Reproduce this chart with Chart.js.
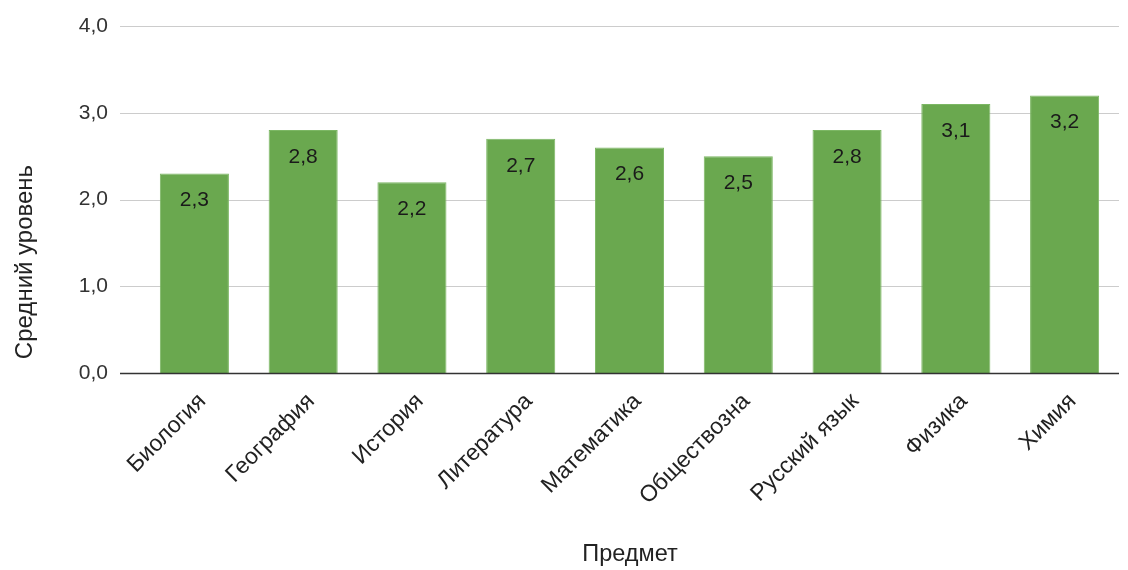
<!DOCTYPE html>
<html>
<head>
<meta charset="utf-8">
<script src="https://cdn.jsdelivr.net/npm/chart.js@4/dist/chart.umd.min.js"></script>
<style>
  html, body { margin: 0; padding: 0; background: #fff; }
  #wrap { width: 1128px; height: 570px; }
</style>
</head>
<body>
<div id="wrap"><canvas id="graficoNiveis"></canvas></div>
<script>
// dados
const predmety = ["Биология", "География", "История", "Литература", "Математика", "Обществозна", "Русский язык", "Физика", "Химия"]
const srednij = [2.3, 2.8, 2.2, 2.7, 2.6, 2.5, 2.8, 3.1, 3.2]
const yTicks = [0, 1, 2, 3, 4]

const fonte = "'Liberation Sans', Arial, sans-serif"

function formata(v) {
    return v.toFixed(1).replace(".", ",")
}

// linhas de grade desenhadas um pouco alem da area (como no original)
const gradePlugin = {
    id: "grade",
    beforeDatasetsDraw(chart) {
        const ctx = chart.ctx
        const y = chart.scales.y
        const area = chart.chartArea
        ctx.save()
        yTicks.forEach(t => {
            const py = Math.round(y.getPixelForValue(t)) + 0.5
            ctx.beginPath()
            ctx.moveTo(120, py)
            ctx.lineTo(area.right, py)
            ctx.strokeStyle = "#cccccc"
            ctx.lineWidth = 1.2
            ctx.stroke()
        })
        ctx.restore()
    }
}

// rotulos dentro das barras + titulos dos eixos
const rotulosPlugin = {
    id: "rotulos",
    afterDatasetsDraw(chart) {
        const ctx = chart.ctx
        const meta = chart.getDatasetMeta(0)
        ctx.save()
        ctx.fillStyle = "#1a1a1a"
        ctx.font = "21px " + fonte
        ctx.textAlign = "center"
        ctx.textBaseline = "middle"
        meta.data.forEach((bar, i) => {
            ctx.fillText(formata(srednij[i]), bar.x, bar.y + 27)
        })
        // linha do zero por cima
        const y0 = Math.round(chart.scales.y.getPixelForValue(0)) + 0.5
        ctx.beginPath()
        ctx.moveTo(120, y0)
        ctx.lineTo(chart.chartArea.right, y0)
        ctx.strokeStyle = "#333333"
        ctx.lineWidth = 1.5
        ctx.stroke()

        ctx.fillStyle = "#222222"
        ctx.font = "23.5px " + fonte
        ctx.fillText("Предмет", 630, 555)
        ctx.font = "24px " + fonte
        ctx.translate(25, 262)
        ctx.rotate(-Math.PI / 2)
        ctx.fillText("Средний уровень", 0, 0)
        ctx.restore()
    }
}

const canvas = document.getElementById("graficoNiveis")
const grafico = new Chart(canvas, {
    type: "bar",
    data: {
        labels: predmety,
        datasets: [{
            label: "Средний уровень",
            data: srednij,
            backgroundColor: "#6aa84f",
            borderColor: "#7cb764",
            borderWidth: 1,
            barPercentage: 0.635,
            categoryPercentage: 1
        }]
    },
    options: {
        responsive: true,
        maintainAspectRatio: false,
        animation: false,
        layout: { padding: { top: 26, right: 9, left: 0, bottom: 0 } },
        plugins: {
            legend: { display: false },
            tooltip: { enabled: false }
        },
        scales: {
            y: {
                min: 0,
                max: 4,
                afterFit(scale) {
                    scale.width = 140
                    scale.paddingTop = 0
                    scale.paddingBottom = 0
                },
                afterBuildTicks(scale) { scale.ticks = yTicks.map(v => ({ value: v })) },
                border: { display: false },
                grid: { display: false },
                ticks: {
                    padding: 24,
                    color: "#333333",
                    font: { family: fonte, size: 21 },
                    callback: v => formata(v)
                }
            },
            x: {
                afterFit(scale) { scale.height = 197 },
                border: { display: false },
                grid: { display: false },
                ticks: {
                    minRotation: 45,
                    maxRotation: 45,
                    padding: 7,
                    labelOffset: 8,
                    color: "#222222",
                    font: { family: fonte, size: 23 }
                }
            }
        }
    },
    plugins: [gradePlugin, rotulosPlugin]
})
</script>
</body>
</html>
